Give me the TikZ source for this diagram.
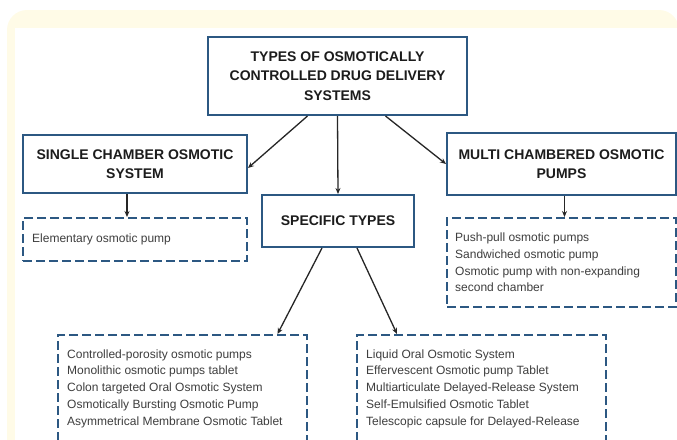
\documentclass[tikz,border=0pt]{standalone}
\usepackage{fontspec}
\setmainfont{Liberation Sans}
\usetikzlibrary{arrows.meta}

\definecolor{boxblue}{RGB}{44,88,130}
\definecolor{cream}{RGB}{255,251,231}
\definecolor{headtext}{RGB}{28,28,28}
\definecolor{listtext}{RGB}{62,62,62}

\begin{document}
\begin{tikzpicture}[x=1pt,y=-1pt,>={Stealth[length=6pt,width=5pt]},
    headbox/.style={draw=boxblue,line width=2pt,fill=white,align=center,
      font=\bfseries\fontsize{14}{19.5}\selectfont,text=headtext,inner sep=0pt},
    listbox/.style={draw=boxblue,line width=2pt,dash pattern=on 9pt off 4pt,inner sep=0pt},
    listtxt/.style={align=left,font=\fontsize{12}{16.8}\selectfont,text=listtext,
      inner sep=0pt,anchor=west},
    link/.style={->,line width=1.3pt,draw=black!85}]

        \useasboundingbox (0,0) rectangle (677,439);
        % frame
        \fill[cream,rounded corners=20pt] (7,10) rectangle (679,480);
        \fill[white] (15,28) rectangle (690,480);

        % headings
        \node[headbox,minimum width=259pt,minimum height=78pt] (types) at (337.5,76)
            {TYPES OF OSMOTICALLY\\CONTROLLED DRUG DELIVERY\\SYSTEMS};
        \node[headbox,minimum width=224pt,minimum height=58pt] (single) at (135,164)
            {SINGLE CHAMBER OSMOTIC\\SYSTEM};
        \node[headbox,minimum width=229pt,minimum height=62pt] (multi) at (561.5,164)
            {MULTI CHAMBERED OSMOTIC\\PUMPS};
        \node[headbox,minimum width=152pt,minimum height=52pt] (specific) at (338,221)
            {SPECIFIC TYPES};

        % lists
        \node[listbox,minimum width=224pt,minimum height=43pt] (elem) at (135,239.5) {};
        \node[listtxt] (elemtxt) at ([xshift=10pt]elem.west) {Elementary osmotic pump};

        \node[listbox,minimum width=229pt,minimum height=89pt] (multilist) at (561.5,262.5) {};
        \node[listtxt] (multitxt) at ([xshift=9pt]multilist.west)
            {Push-pull osmotic pumps\\Sandwiched osmotic pump\\Osmotic pump with non-expanding\\second chamber};

        \node[listbox,minimum width=249pt,minimum height=107pt] (leftlist) at (182.5,388.5) {};
        \node[listtxt] (lefttxt) at ([xshift=10pt]leftlist.west)
            {Controlled-porosity osmotic pumps\\Monolithic osmotic pumps tablet\\Colon targeted Oral Osmotic System\\Osmotically Bursting Osmotic Pump\\Asymmetrical Membrane Osmotic Tablet};

        \node[listbox,minimum width=249pt,minimum height=107pt] (rightlist) at (481.5,388.5) {};
        \node[listtxt] (righttxt) at ([xshift=10pt]rightlist.west)
            {Liquid Oral Osmotic System\\Effervescent Osmotic pump Tablet\\Multiarticulate Delayed-Release System\\Self-Emulsified Osmotic Tablet\\Telescopic capsule for Delayed-Release};

        % arrows
        \draw[link] ([xshift=-30pt]types.south) -- ([yshift=-4pt]single.east);
        \draw[link] (types.south) -- (specific.north);
        \draw[link] ([xshift=48pt]types.south) -- (multi.west);

        \draw[link] ([xshift=-8pt]single.south) -- ([xshift=-8pt]elem.north);
        \draw[link] ([xshift=3pt]multi.south) -- ([xshift=3pt]multilist.north);

        \draw[link] ([xshift=-16pt]specific.south) -- ([xshift=95pt]leftlist.north);
        \draw[link] ([xshift=19pt]specific.south) -- ([xshift=-84.5pt]rightlist.north);

\end{tikzpicture}
\end{document}
